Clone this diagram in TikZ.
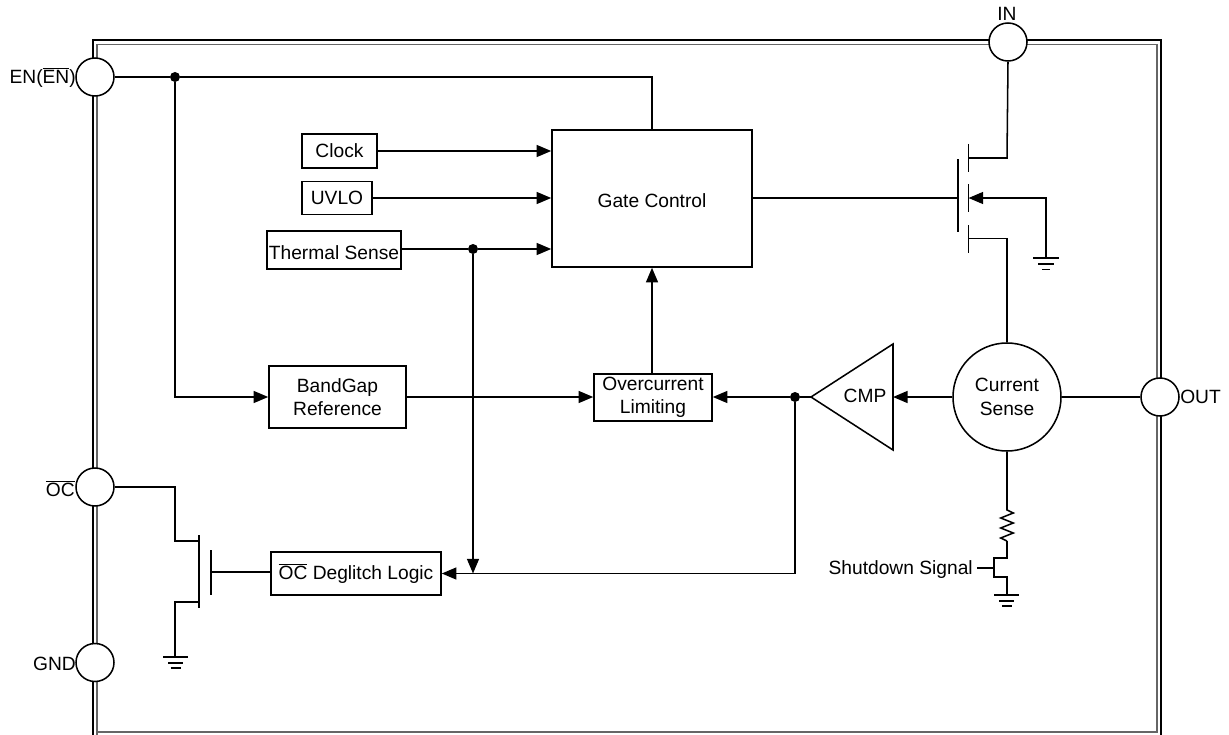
\documentclass[tikz,border=0pt]{standalone}
\usepackage{fontspec}
\setmainfont{Liberation Sans}
\usetikzlibrary{arrows.meta}
\tikzset{
  wire/.style={line width=1.15pt},
  sig/.style={wire, -{Triangle[length=11pt,width=9pt]}},
  blockbox/.style={draw, line width=1.15pt, inner sep=0pt, align=center},
  pin/.style={draw, circle, fill=white, line width=1.15pt, inner sep=0pt, minimum size=28.5pt},
  junct/.style={fill, circle, inner sep=0pt, minimum size=7.5pt},
  lab/.style={inner sep=0pt},
  lowtext/.style={execute at begin node={\rule{0pt}{#1}}}
}
\begin{document}
\begin{tikzpicture}[x=0.75pt, y=-0.75pt, font=\fontsize{14.4}{17.5}\selectfont]
    \useasboundingbox (0,0) rectangle (1229,735);
    % package frame
    \draw[line width=1.15pt] (93,735) -- (93,40) -- (1161,40) -- (1161,735);
    \draw[line width=1.15pt, black!60] (97,735) -- (97,44.5) -- (1157,44.5) -- (1157,732) -- (97,732);
    % pins
    \node[pin] (en) at (95,77) {};
    \node[pin] (in) at (1008,42) {};
    \node[pin] (oc) at (95,487) {};
    \node[pin] (gnd) at (95,662.5) {};
    \node[pin] (out) at (1160,397) {};
    \node[lab, anchor=east] (enlab) at (76,77.5) {EN($\overline{\mbox{EN}}$)};
    \node[lab] (inlab) at (1007,14) {IN};
    \node[lab, anchor=east] (oclab) at (75,489) {$\overline{\mbox{OC}}$};
    \node[lab, anchor=east] (gndlab) at (76,664) {GND};
    \node[lab, anchor=west] (outlab) at (1180,397) {OUT};
    % blocks
    \node[blockbox, minimum width=56.25pt, minimum height=25.5pt] (clock) at (339.5,151) {Clock};
    \node[blockbox, minimum width=52.5pt, minimum height=24.75pt] (uvlo) at (337,198) {UVLO};
    \node[blockbox, lowtext=13.7pt, minimum width=100.5pt, minimum height=28.5pt] (thermal) at (334,250) {Thermal Sense};
    \node[blockbox, lowtext=13.7pt, minimum width=150pt, minimum height=102.75pt] (gate) at (652,198.5) {Gate Control};
    \node[blockbox, lowtext=13.7pt, minimum width=102.75pt, minimum height=46.5pt] (bandgap) at (337.5,397) {BandGap\\Reference};
    \node[blockbox, lowtext=12.2pt, minimum width=88.5pt, minimum height=35.25pt] (limit) at (653,397.5) {Overcurrent\\Limiting};
    \node[blockbox, minimum width=127.5pt, minimum height=32.25pt] (deglitch) at (356,573.5) {$\overline{\mbox{OC}}$ Deglitch Logic};
    \node[draw, circle, lowtext=13.7pt, line width=1.15pt, inner sep=0pt, minimum size=81pt, align=center] (sense) at (1007,397) {Current\\Sense};
    \coordinate (cmptip) at (811,397);
    \coordinate (cmpbase) at (893,397);
    \draw[wire, line join=miter] (cmptip) -- (893,344) -- (893,450) -- cycle;
    \node[lab] (cmp) at (865,396) {CMP};
    % junctions
    \node[junct] (j1) at (175,77) {};
    \node[junct] (j2) at (473,249) {};
    \node[junct] (j3) at (795,397) {};
    % signals
    \draw[wire] (en) -- (j1) -- (652,77) -- (gate.north);
    \draw[sig] (j1) |- (bandgap.west);
    \draw[sig] (clock.east) -- (gate.west |- clock.east);
    \draw[sig] (uvlo.east) -- (gate.west |- uvlo.east);
    \draw[wire] (thermal.east |- j2) -- (j2);
    \draw[sig] (j2) -- (gate.west |- j2);
    \draw[sig] (bandgap.east) -- (limit.west |- bandgap.east);
    \draw[sig] (limit.north -| gate.south) -- (gate.south);
    \draw[wire] (cmptip) -- (j3);
    \draw[sig] (j3) -- (limit.east |- j3);
    \draw[sig] (sense.west) -- (cmpbase);
    \draw[wire] (sense.east) -- (out.west);
    \coordinate (dlgin) at (deglitch.east);
    \draw[sig] (j3) |- (dlgin);
    \draw[sig] (j2) -- (j2 |- dlgin);
    % high side mosfet
    \coordinate (hg) at (958,198);
    \coordinate (hd) at (968.5,158);
    \coordinate (hb) at (968.5,198);
    \coordinate (hs) at (968.5,238.5);
    \draw[wire] (958,159) -- (958,232);
    \draw[wire] (968.5,144) -- (968.5,172) (968.5,184) -- (968.5,212) (968.5,225) -- (968.5,253);
    \draw[wire] (gate.east |- hg) -- (hg);
    \draw[wire] (in.south) -- (1007,158) -- (hd);
    \draw[wire] (hs) -- (1007,238.5) -- (sense.north);
    \coordinate (hgnd) at (1046,258);
    \draw[sig] (hgnd) |- (hb);
    \draw[wire] (1033,258) -- (1059,258) (1038,264) -- (1054,264) (1042,269.5) -- (1050,269.5);
    % open drain mosfet
    \coordinate (og) at (211,572);
    \coordinate (od) at (199,541);
    \coordinate (os) at (199,602);
    \coordinate (ognd) at (175,657);
    \draw[wire] (199,535) -- (199,608);
    \draw[wire] (211,550) -- (211,595);
    \draw[wire] (oc.east) -- (175,487) -- (175,541) -- (od);
    \draw[wire] (os) -- (175,602) -- (ognd);
    \draw[wire] (og) -- (deglitch.west |- og);
    \draw[wire] (163,657) -- (188,657) (168,663) -- (183,663) (170.5,668) -- (180.5,668);
    % shutdown path
    \coordinate (rtop) at (1007,510);
    \coordinate (rbot) at (1007,541);
    \coordinate (sgnd) at (1007,595);
    \draw[wire] (sense.south) -- (rtop) -- (1013.3,513) -- (1000.7,518) -- (1013.3,523) -- (1000.7,528) -- (1013.3,533) -- (1000.7,538) -- (rbot);
    \draw[wire] (rbot) -- (1007,558) -- (994,558) -- (994,577) -- (1007,577) -- (sgnd);
    \node[lab, anchor=east] (shutdown) at (973,570) {Shutdown Signal};
    \draw[wire] (977,568) -- (994,568);
    \draw[wire] (994,595) -- (1019,595) (999,601) -- (1014,601) (1002,606) -- (1012,606);
  \end{tikzpicture}
\end{document}
